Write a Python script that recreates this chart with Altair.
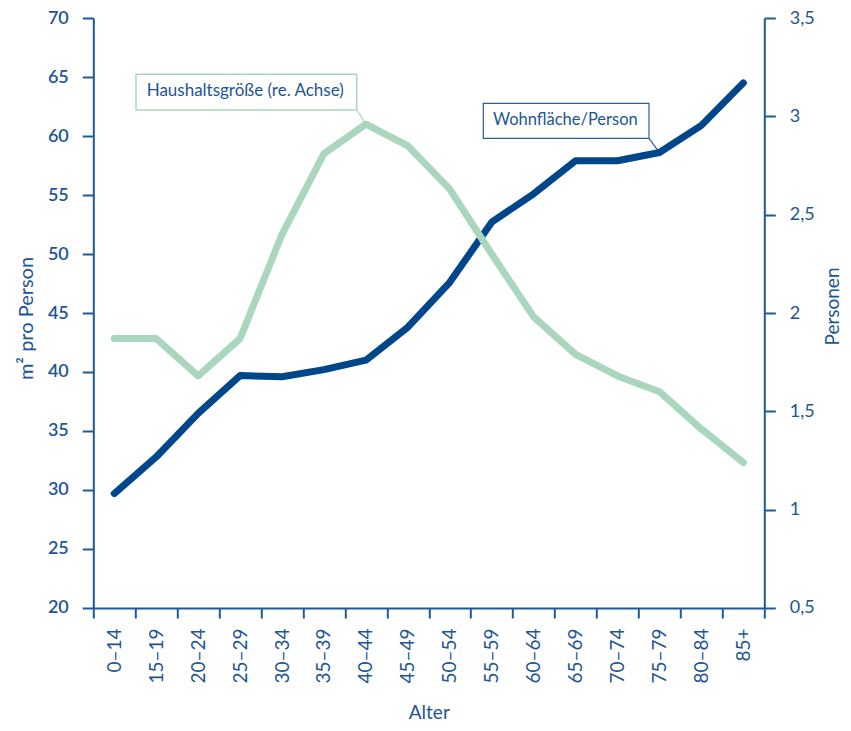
import altair as alt
import pandas as pd

ages = ["0–14", "15–19", "20–24", "25–29", "30–34", "35–39", "40–44", "45–49",
        "50–54", "55–59", "60–64", "65–69", "70–74", "75–79", "80–84", "85+"]
wohnflaeche = [29.7, 32.8, 36.5, 39.7, 39.6, 40.2, 41.0, 43.8,
               47.6, 52.7, 55.1, 57.9, 57.9, 58.6, 60.9, 64.5]
haushalt = [1.87, 1.87, 1.68, 1.87, 2.40, 2.81, 2.96, 2.85,
            2.63, 2.30, 1.98, 1.79, 1.68, 1.60, 1.41, 1.24]

BLUE = "#00468b"
GREEN = "#a9d6bd"
AXIS = "#1f5a98"
TEXT = "#1d5594"
FONT = "Lato"

df = pd.DataFrame({"Alter": ages, "Wohnflaeche": wohnflaeche, "Haushalt": haushalt})

xenc = alt.X("Alter:N", sort=ages,
             scale=alt.Scale(type="band", paddingInner=0, paddingOuter=0),
             axis=alt.Axis(title="Alter", labelAngle=270, tickBand="extent",
                           tickSize=10, labelPadding=10, labelFontSize=19,
                           titleFontSize=19, titleY=105, titleBaseline="middle",
                           titleFontWeight="normal"))

y_left = alt.Y("Wohnflaeche:Q",
               scale=alt.Scale(domain=[20, 70], nice=False, zero=False),
               axis=alt.Axis(title="m² pro Person", values=list(range(20, 71, 5)),
                             tickSize=11, labelPadding=14, labelFontSize=18,
                             labelFontWeight=600, titleFontSize=20,
                             titleFontWeight="normal", titleAngle=270,
                             titleBaseline="middle", titleX=-67, titleY=300,
                             grid=False))

y_right = alt.Y("Haushalt:Q",
                scale=alt.Scale(domain=[0.5, 3.5], nice=False, zero=False),
                axis=alt.Axis(title="Personen", orient="right",
                              values=[0.5, 1, 1.5, 2, 2.5, 3, 3.5],
                              labelExpr="replace(toString(datum.value), '.', ',')",
                              tickSize=11, labelPadding=14, labelFontSize=18,
                              titleFontSize=19, titleFontWeight="normal",
                              titleAngle=270, titleBaseline="middle",
                              titleX=68, titleY=288, grid=False))

base = alt.Chart(df)

blue_line = base.mark_line(color=BLUE, strokeWidth=7, strokeCap="round",
                           strokeJoin="round").encode(x=xenc, y=y_left)
blue_leader = base.transform_filter(alt.datum.Alter == "75–79").mark_rule(
    color="#2b5e99", strokeWidth=1.2).encode(
    x=alt.X("Alter:N", sort=ages), y=alt.Y("Wohnflaeche:Q"),
    x2=alt.value(555.7), y2=alt.value(120.3))

green_line = base.mark_line(color=GREEN, strokeWidth=7, strokeCap="round",
                            strokeJoin="round").encode(x=xenc, y=y_right)
green_leader = base.transform_filter(alt.datum.Alter == "40–44").mark_rule(
    color=GREEN, strokeWidth=1.2).encode(
    x=alt.X("Alter:N", sort=ages), y=alt.Y("Haushalt:Q"),
    x2=alt.value(263.4), y2=alt.value(92))

blue_layer = alt.layer(blue_leader, blue_line)
green_layer = alt.layer(green_leader, green_line)

one = pd.DataFrame({"k": [0]})
ann = alt.Chart(one)
box1 = ann.mark_rect(fill="white", stroke=GREEN, strokeWidth=1.5).encode(
    x=alt.value(42.7), x2=alt.value(263.4), y=alt.value(56.3), y2=alt.value(92))
txt1 = ann.mark_text(align="left", baseline="middle", font=FONT, fontSize=17,
                     color=TEXT).encode(
    x=alt.value(53.4), y=alt.value(73), text=alt.value("Haushaltsgröße (re. Achse)"))
box2 = ann.mark_rect(fill="white", stroke="#2b5e99", strokeWidth=1.2).encode(
    x=alt.value(390), x2=alt.value(555.7), y=alt.value(85.3), y2=alt.value(120.3))
txt2 = ann.mark_text(align="left", baseline="middle", font=FONT, fontSize=16.5,
                     color=TEXT).encode(
    x=alt.value(399.7), y=alt.value(102), text=alt.value("Wohnfläche/Person"))

chart = alt.layer(blue_layer, green_layer, box1, txt1, box2, txt2).resolve_scale(
    y="independent"
).properties(
    width=671, height=590,
    autosize=alt.AutoSizeParams(type="none"),
    padding={"left": 85.3, "top": 10, "right": 78.5, "bottom": 115},
).configure_view(stroke=None).configure_axis(
    domainColor=AXIS, domainWidth=2, tickColor=AXIS, tickWidth=2,
    labelColor=TEXT, titleColor=TEXT, labelFont=FONT, titleFont=FONT,
)

chart.save("out.html", embed_options={"renderer": "svg", "actions": False})
